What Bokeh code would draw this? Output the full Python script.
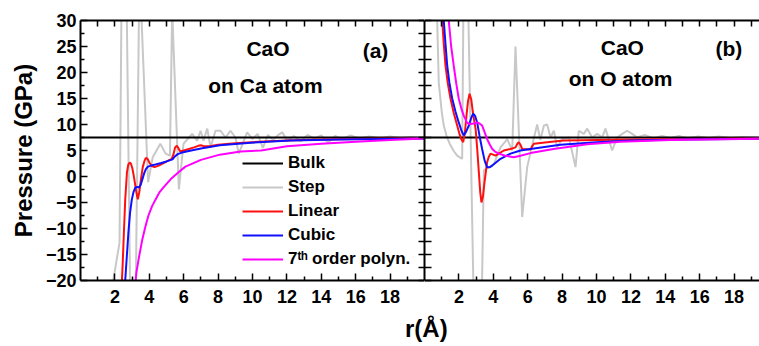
from bokeh.plotting import figure
from bokeh.models import Range1d, FixedTicker, LinearAxis, Legend, LegendItem, Label, Div
from bokeh.layouts import row, column
from bokeh.embed import file_html
from bokeh.resources import INLINE

# ---------------- data ----------------
bulk_r = [0.0, 20.0]
bulk_P = [7.5, 7.5]

# (a) CaO, on Ca atom
ca_step_r = [1.8, 2.27, 2.4, 2.66, 2.95, 3.15, 3.43, 3.93, 4.2, 4.64, 4.95, 5.2, 5.33, 5.72, 5.99, 6.49, 6.78,
             6.98, 7.15, 7.37, 7.56, 7.85, 8.14, 8.43, 8.72, 9.01, 9.2, 9.69, 10.0, 10.3, 10.6, 10.9, 11.2,
             11.5, 11.73, 12.02, 12.4, 12.8, 13.2, 13.6, 14.0, 14.4, 14.8, 15.2, 15.7, 16.2, 16.8, 17.4,
             18.0, 18.6, 19.2, 20.0]
ca_step_P = [-22, -12.7, 40, 40, -40, -40, 40, -1.1, 3.7, 6.3, 4.4, 4.0, 32, -2.5, 6.3, 8.2, 6.9,
             8.8, 6.9, 9.2, 5.6, 8.8, 8.8, 7.5, 8.8, 7.5, 4.4, 8.5, 7.2, 8.2, 5.5, 8.0, 7.0,
             8.0, 8.5, 6.9, 7.8, 6.8, 8.0, 7.3, 7.9, 6.5, 7.8, 7.2, 7.9, 7.3, 7.7, 7.3,
             7.7, 7.4, 7.6, 7.5]

ca_lin_r = [2.38, 2.45, 2.52, 2.6, 2.7, 2.78, 2.86, 2.94, 3.02, 3.12, 3.22, 3.33, 3.42, 3.52, 3.62, 3.72,
            3.8, 3.9, 4.02, 4.15, 4.3, 4.55, 4.85, 5.13, 5.3, 5.4, 5.5, 5.6, 5.7, 5.8, 6.0, 6.3, 6.6,
            6.85, 7.0, 7.2, 7.5, 8.0, 9.0, 10.0, 11.0, 12.0, 14.0, 17.0, 20.0]
ca_lin_P = [-22, -17, -11, -4.5, 0.8, 2.3, 2.7, 2.4, 1.5, -0.3, -2.5, -4.4, -3.0, -0.4, 1.8, 3.0,
            3.6, 3.4, 2.6, 2.0, 1.8, 2.1, 2.6, 3.1, 3.4, 4.2, 5.6, 5.9, 5.4, 4.8, 5.0, 5.3, 5.6,
            5.9, 6.0, 5.8, 5.8, 6.1, 6.4, 6.6, 6.8, 6.9, 7.1, 7.25, 7.35]

ca_cub_r = [2.55, 2.62, 2.7, 2.78, 2.88, 2.98, 3.08, 3.18, 3.28, 3.4, 3.5, 3.6, 3.7, 3.8, 3.92, 4.1,
            4.36, 4.7, 5.0, 5.35, 5.5, 5.65, 5.9, 6.3, 7.0, 8.1, 9.9, 12.2, 15.1, 20.0]
ca_cub_P = [-22, -19, -15, -11, -7, -4.5, -3.0, -2.2, -2.0, -2.1, -1.6, -0.5, 0.6, 1.4, 1.9, 2.1,
            2.3, 2.6, 2.9, 3.3, 3.9, 4.3, 4.6, 4.9, 5.4, 6.0, 6.5, 6.9, 7.1, 7.3]

ca_pol_r = [3.15, 3.25, 3.4, 3.6, 3.8, 3.95, 4.15, 4.35, 4.6, 4.8, 5.25, 5.7, 6.1, 7.0, 8.1, 9.3,
            10.5, 12.0, 14.0, 16.0, 18.0, 20.0]
ca_pol_P = [-22, -18.5, -15.5, -12, -9.3, -7.5, -5.8, -4.5, -3.0, -2.2, -0.5, 0.8, 1.9, 3.2, 4.2, 4.8,
            5.0, 5.8, 6.3, 6.7, 7.0, 7.3]

# (b) CaO, on O atom
o_step_r = [0.7, 0.83, 1.0, 1.12, 1.3, 1.51, 1.7, 1.9, 2.19, 2.28, 2.5, 2.95, 3.25, 3.45, 3.75, 4.03,
            4.42, 4.81, 5.1, 5.29, 5.68, 5.97, 6.26, 6.55, 6.74, 6.94, 7.13, 7.33, 7.52, 7.71, 8.0,
            8.4, 8.78, 8.97, 9.26, 9.46, 9.75, 10.04, 10.33, 10.52, 10.91, 11.2, 11.5, 11.78, 12.07,
            12.37, 12.8, 13.3, 13.8, 14.3, 14.8, 15.3, 15.9, 16.5, 17.1, 17.8, 18.5, 19.5]
o_step_P = [35, 18, 12.5, 9.8, 7.6, 6.0, 4.9, 4.0, 3.4, 40, 40, -40, -40, 1.2, 1.8, 2.4,
            5.6, 7.2, 5.0, 25.0, -7.8, 1.8, 6.0, 10.0, 7.0, 9.8, 10.0, 7.5, 8.8, 5.6, 7.2,
            7.5, 1.8, 8.8, 8.2, 9.2, 7.5, 8.2, 7.5, 9.2, 5.0, 7.5, 8.2, 8.8, 8.2,
            7.5, 8.0, 7.3, 7.8, 7.4, 7.8, 7.3, 7.7, 7.4, 7.7, 7.4, 7.6, 7.5]

o_lin_r = [0.95, 1.03, 1.12, 1.22, 1.35, 1.51, 1.7, 1.9, 2.05, 2.13, 2.25, 2.35, 2.44, 2.53, 2.62, 2.72,
           2.81, 2.9, 2.97, 3.06, 3.16, 3.24, 3.31, 3.4, 3.49, 3.57, 3.64, 3.74, 3.84, 4.13, 4.61, 5.0,
           5.29, 5.4, 5.48, 5.58, 5.68, 6.16, 6.26, 6.36, 7.13, 8.1, 10.0, 12.0, 15.0, 19.5]
o_lin_P = [36, 30, 25.5, 21.3, 18, 15, 12.2, 9.8, 8.0, 7.2, 6.6, 8.5, 11.7, 14.5, 15.9, 14.8,
           12.4, 10.5, 9.2, 5.5, 0.8, -3.0, -5.0, -3.8, -1.1, 1.0, 2.75, 3.8, 4.4, 4.0, 5.0, 5.3,
           5.6, 6.3, 6.6, 6.1, 5.3, 5.2, 5.8, 6.3, 6.6, 6.9, 7.0, 7.1, 7.2, 7.3]

o_cub_r = [1.0, 1.12, 1.22, 1.32, 1.45, 1.61, 1.8, 1.99, 2.15, 2.28, 2.4, 2.58, 2.72, 2.83, 2.95, 3.06,
           3.2, 3.35, 3.5, 3.64, 3.8, 3.94, 4.42, 5.0, 5.58, 6.16, 7.9, 10.0, 12.0, 15.0, 19.5]
o_cub_P = [36, 30, 25.5, 21.3, 18, 15, 12.5, 10.4, 8.8, 7.9, 8.5, 9.8, 11.3, 12.1, 11.6, 10.4,
           7.8, 5.3, 3.0, 1.8, 1.8, 2.1, 3.4, 4.4, 5.0, 5.3, 6.1, 6.6, 6.9, 7.1, 7.25]

o_pol_r = [1.25, 1.41, 1.55, 1.7, 1.85, 1.99, 2.15, 2.28, 2.48, 2.67, 2.85, 3.06, 3.2, 3.35, 3.5, 3.64,
           3.8, 3.94, 4.1, 4.32, 4.7, 5.19, 5.58, 6.16, 7.5, 9.46, 11.4, 14.3, 19.5]
o_pol_P = [36, 30, 25, 21.3, 17.8, 15, 13.0, 11.7, 10.3, 10.1, 10.2, 10.4, 10.2, 9.8, 8.5, 7.2,
           6.1, 5.3, 4.8, 4.4, 4.0, 3.7, 4.0, 4.5, 5.3, 6.2, 6.7, 7.0, 7.25]

y_ticks = [-20, -15, -10, -5, 0, 5, 10, 15, 20, 25, 30]
y_minor = [-17.5, -12.5, -7.5, -2.5, 2.5, 7.5, 12.5, 17.5, 22.5, 27.5]
x_ticks = [2, 4, 6, 8, 10, 12, 14, 16, 18]
x_minor = [1, 3, 5, 7, 9, 11, 13, 15, 17, 19]

series_names = ["Bulk", "Step", "Linear", "Cubic", "7\u1d57\u02b0 order polyn."]
series_colors = ["#000000", "#c8c8c8", "#ff1010", "#1010ff", "#ff00ff"]

FONT = "Liberation Sans"
FIG_H = 312


def style_axis(ax, ticks, minor, major_in=7, minor_in=4):
    ax.ticker = FixedTicker(ticks=ticks, minor_ticks=minor)
    ax.axis_line_width = 2
    ax.axis_line_color = "black"
    ax.major_tick_line_width = 1.5
    ax.minor_tick_line_width = 1.5
    ax.major_tick_in = major_in
    ax.major_tick_out = 0
    ax.minor_tick_in = minor_in
    ax.minor_tick_out = 0
    ax.major_label_text_font = FONT
    ax.major_label_text_font_style = "bold"
    ax.major_label_text_font_size = "18px"
    ax.major_label_text_color = "black"


def plain_axis(ticks, minor, tick_in=5, tick_out=0):
    # frame edge with tick marks only (every mark drawn as a minor tick -> no labels)
    ax = LinearAxis(ticker=FixedTicker(ticks=[], minor_ticks=sorted(list(ticks) + list(minor))))
    ax.axis_line_width = 2
    ax.axis_line_color = "black"
    ax.minor_tick_line_width = 1.5
    ax.minor_tick_in = tick_in
    ax.minor_tick_out = tick_out
    ax.major_label_standoff = 0
    return ax


def make_fig(width, xmax, left_border):
    p = figure(width=width, height=FIG_H, x_range=Range1d(0, xmax), y_range=Range1d(-20, 30),
               output_backend="svg", toolbar_location=None,
               x_axis_location=None, y_axis_location=None,
               min_border_left=left_border, min_border_right=0,
               min_border_top=20, min_border_bottom=FIG_H - 20 - 260)
    p.grid.visible = False
    p.outline_line_color = None
    p.background_fill_color = "white"
    p.border_fill_color = "white"
    return p


def draw(p, step_r, step_P, lin_r, lin_P, cub_r, cub_P, pol_r, pol_P):
    rs = []
    rs.append(p.line(step_r, step_P, color=series_colors[1], line_width=2))
    rs.insert(0, p.line(bulk_r, bulk_P, color=series_colors[0], line_width=2))
    rs.append(p.line(lin_r, lin_P, color=series_colors[2], line_width=2))
    rs.append(p.line(cub_r, cub_P, color=series_colors[3], line_width=2))
    rs.append(p.line(pol_r, pol_P, color=series_colors[4], line_width=2))
    return rs


def add_text(p, x, y, txt, size="21px", align="center"):
    p.add_layout(Label(x=x, y=y, text=txt, text_font=FONT, text_font_style="bold",
                       text_font_size=size, text_align=align, text_baseline="middle",
                       text_color="black"))


# ---------------- left panel ----------------
left = make_fig(424, 20, 80)
ax = LinearAxis(axis_label="Pressure (GPa)")
style_axis(ax, y_ticks, y_minor)
ax.axis_label_text_font = FONT
ax.axis_label_text_font_style = "bold"
ax.axis_label_text_font_size = "24px"
ax.axis_label_text_color = "black"
ax.axis_label_standoff = 6
ax.major_label_standoff = 4
left.add_layout(ax, "left")
left.add_layout(plain_axis(y_ticks, y_minor, tick_in=6), "right")
ax = LinearAxis()
style_axis(ax, x_ticks, x_minor)
ax.major_label_standoff = 9
left.add_layout(ax, "below")
left.add_layout(plain_axis(x_ticks, x_minor, tick_in=6), "above")

rl = draw(left, ca_step_r, ca_step_P, ca_lin_r, ca_lin_P, ca_cub_r, ca_cub_P, ca_pol_r, ca_pol_P)
legend = Legend(items=[LegendItem(label=n, renderers=[r]) for n, r in zip(series_names, rl)],
                location=(162, 11), padding=0, margin=0, spacing=4,
                glyph_width=41, glyph_height=20, label_height=20, label_standoff=5,
                label_text_font=FONT, label_text_font_style="bold", label_text_font_size="17px",
                label_text_color="black",
                border_line_color=None, background_fill_alpha=0)
left.add_layout(legend)

add_text(left, 10.9, 24.6, "CaO")
add_text(left, 10.75, 17.5, "on Ca atom")
add_text(left, 17.15, 24.3, "(a)")

# ---------------- right panel ----------------
right = make_fig(335, 335 / 17.2, 0)
right.add_layout(plain_axis(y_ticks, y_minor, tick_in=7), "left")
ax = LinearAxis()
style_axis(ax, x_ticks, x_minor)
ax.major_label_standoff = 9
right.add_layout(ax, "below")
right.add_layout(plain_axis(x_ticks, x_minor, tick_in=6), "above")

draw(right, o_step_r, o_step_P, o_lin_r, o_lin_P, o_cub_r, o_cub_P, o_pol_r, o_pol_P)
add_text(right, 11.5, 24.8, "CaO")
add_text(right, 11.4, 18.8, "on O atom")
add_text(right, 17.7, 24.6, "(b)")

xlabel = Div(text='<div style="font-family: \'Liberation Sans\', Arial, sans-serif; font-weight: bold; '
                  'font-size: 24px; line-height: 28px; padding-left: 405px; padding-top: 3px; '
                  'color: black;">r(\u00c5)</div>',
             width=759, height=346 - FIG_H, margin=(0, 0, 0, 0))

layout = column(row(left, right, spacing=0), xlabel, spacing=0)

open("out.html", "w").write(file_html(layout, INLINE))
